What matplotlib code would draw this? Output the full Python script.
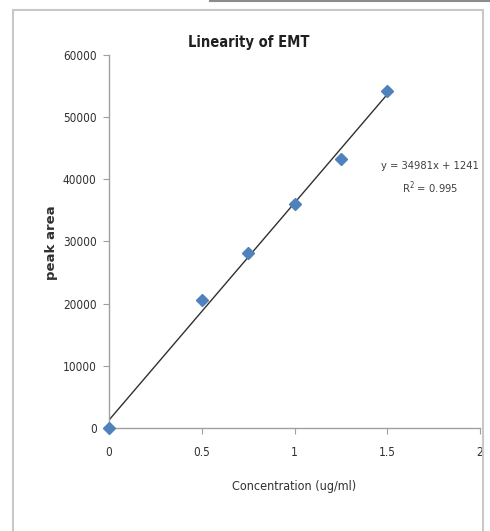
import matplotlib
matplotlib.use("Agg")
import matplotlib.pyplot as plt
import numpy as np
from matplotlib.patches import Rectangle
from matplotlib.lines import Line2D

plt.rcParams['font.family'] = ['DejaVu Sans']
plt.rcParams['font.stretch'] = 'condensed'

conc = [0, 0.5, 0.75, 1.0, 1.25, 1.5]
peak_area = [0, 20600, 28200, 36100, 43200, 54200]
x_ticks = [0, 0.5, 1, 1.5, 2]
x_tick_labels = ['0', '0.5', '1', '1.5', '2']
y_ticks = [0, 10000, 20000, 30000, 40000, 50000, 60000]
equation = "y = 34981x + 1241"
r2_text = "R$^2$ = 0.995"

fig = plt.figure(figsize=(4.9, 5.31), dpi=100)
ax = fig.add_axes([109/490, 1-428/531, (480-109)/490, (428-55)/531])

# frame of chart area
fig.add_artist(Rectangle((13/490, -0.1), (483-13)/490, (531-10)/531 + 0.1, transform=fig.transFigure,
                         fill=False, edgecolor='#c8c8c8', linewidth=1.5))
fig.add_artist(Line2D([210/490, 1], [1-1/531, 1-1/531], transform=fig.transFigure,
                      color='#8c8c8c', linewidth=1.5))

xs = np.array(conc)
ys = np.array(peak_area)
coef = np.polyfit(xs, ys, 1)
xl = np.array([xs.min(), xs.max()])
ax.plot(xl, np.polyval(coef, xl), color='#303030', linewidth=1.0, zorder=2)
ax.plot(conc, peak_area, linestyle='none', marker='D', markersize=6.5,
        color='#4f81bd', zorder=3, clip_on=False)

ax.set_xlim(0, 2)
ax.set_ylim(0, 60000)
ax.set_xticks(x_ticks)
ax.set_xticklabels(x_tick_labels)
ax.set_yticks(y_ticks)
for s in ['top', 'right']:
    ax.spines[s].set_visible(False)
for s in ['left', 'bottom']:
    ax.spines[s].set_color('#a0a0a0')
    ax.spines[s].set_linewidth(1.0)
ax.tick_params(axis='both', direction='out', length=4, color='#a0a0a0',
               labelsize=8.5, labelcolor='#303030')
ax.tick_params(axis='x', pad=9)
ax.tick_params(axis='y', pad=5)

ax.set_xlabel('Concentration (ug/ml)', fontsize=9, color='#303030', labelpad=15)
fig.text(51/490, 1-243/531, 'peak area', rotation=90, fontsize=9.5, fontweight='bold',
         fontstretch='normal', color='#303030', ha='center', va='center')
fig.text(249/490, 1-42/531, 'Linearity of EMT', fontsize=10.5, fontweight='bold',
         color='#202020', ha='center', va='center')

fig.text(430/490, 1-166/531, equation, fontsize=8, color='#404040', ha='center', va='center')
fig.text(430/490, 1-188/531, r2_text, fontsize=8, color='#404040', ha='center', va='center')

fig.savefig('out.png', dpi=100)
